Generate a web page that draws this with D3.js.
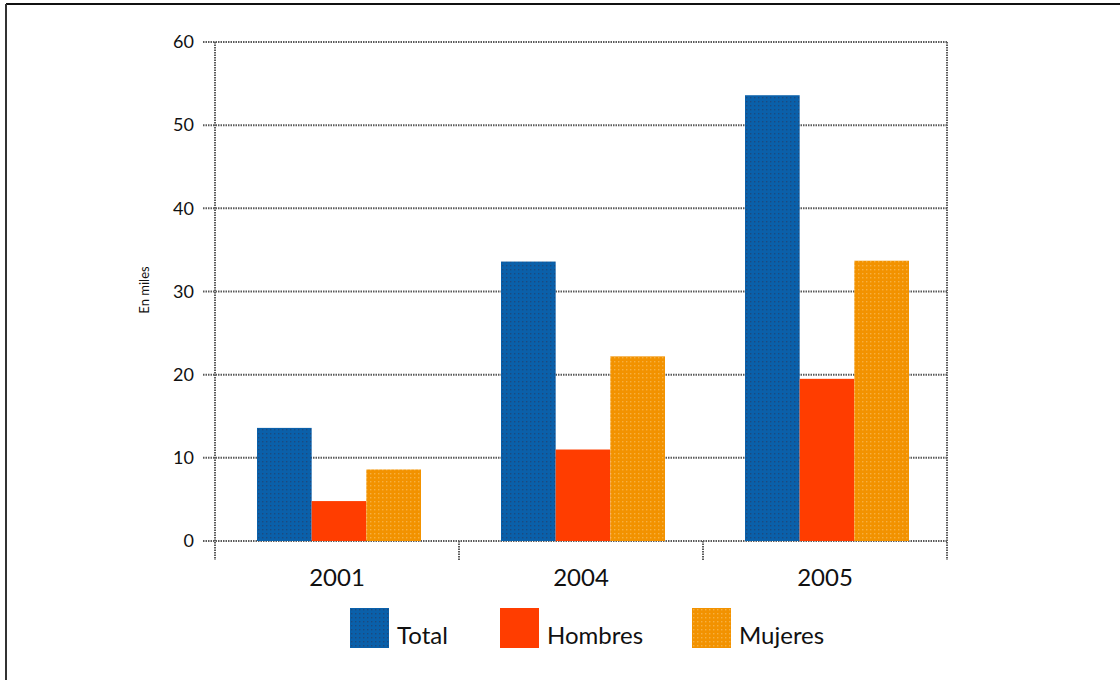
<!DOCTYPE html>
<html>
<head>
<meta charset="utf-8">
<script src="https://cdn.jsdelivr.net/npm/d3@7"></script>
<style>
  body { margin: 0; background: #fff; }
  svg { display: block; font-family: Lato, "Open Sans", sans-serif; }
</style>
</head>
<body>
<svg width="1120" height="680"></svg>
<script>
// data
var years = ["2001", "2004", "2005"];
var series = ["Total", "Hombres", "Mujeres"];
var total = [13.6, 33.6, 53.6];
var hombres = [4.8, 11.0, 19.5];
var mujeres = [8.6, 22.2, 33.7];
var yTicks = [0, 10, 20, 30, 40, 50, 60];

var values = [total, hombres, mujeres];
var fills = ["#0a60aa", "#ff3d00", "#f29200"];
var dots = ["#1a4a80", "#ff5a20", "#f7b040"];

var svg = d3.select("svg");

// frame (only top + left edges show in the picture)
svg.append("line").attr("x1", 6).attr("x2", 1120).attr("y1", 4).attr("y2", 4)
  .attr("stroke", "#111").attr("stroke-width", 2);
svg.append("line").attr("x1", 6).attr("x2", 6).attr("y1", 4).attr("y2", 680)
  .attr("stroke", "#333").attr("stroke-width", 2);

// dotted textures for the bars
var defs = svg.append("defs");
series.forEach(function(s, i) {
  var p = defs.append("pattern").attr("id", "pat" + i)
    .attr("width", 4).attr("height", 4).attr("patternUnits", "userSpaceOnUse");
  p.append("rect").attr("width", 4).attr("height", 4).attr("fill", fills[i]);
  if (i != 1) {
    p.append("rect").attr("x", 1).attr("y", 1).attr("width", 1.4).attr("height", 1.4)
      .attr("fill", dots[i]);
  }
});

var plotL = 215, plotR = 947, plotT = 42, plotB = 541;

var x = d3.scaleBand().domain(years).range([plotL, plotR]);
var xs = d3.scaleBand().domain(series).range([0, 164]);
var y = d3.scaleLinear().domain([0, 60]).range([plotB, plotT]);

var grid = svg.append("g");

// horizontal grid lines
grid.selectAll(".h").data(yTicks).enter().append("line")
  .attr("x1", plotL - 12).attr("x2", plotR)
  .attr("y1", function(d) { return y(d); })
  .attr("y2", function(d) { return y(d); });

// vertical lines: axis, category dividers, right edge
var vx = [plotL].concat(years.map(function(d) { return x(d) + x.bandwidth(); }));
grid.selectAll(".v").data(vx).enter().append("line")
  .attr("x1", function(d) { return d; }).attr("x2", function(d) { return d; })
  .attr("y1", function(d, i) { return (i == 0 || i == 3) ? plotT : plotB; })
  .attr("y2", plotB + 19);

grid.selectAll("line")
  .attr("stroke", "#5a5a5a").attr("stroke-width", 2)
  .attr("stroke-dasharray", "1.5,1");

// y tick labels
svg.selectAll(".yl").data(yTicks).enter().append("text")
  .attr("x", plotL - 21).attr("y", function(d) { return y(d); })
  .attr("dy", "0.35em").attr("text-anchor", "end")
  .attr("font-size", 18).attr("fill", "#111")
  .text(function(d) { return d; });

// axis title
svg.append("text")
  .attr("transform", "translate(149,290) rotate(-90)")
  .attr("text-anchor", "middle").attr("font-size", 13).attr("fill", "#111")
  .text("En miles");

// bars
var groups = svg.selectAll(".grp").data(years).enter().append("g")
  .attr("transform", function(d) {
    return "translate(" + (x(d) + x.bandwidth() / 2 - 80) + ",0)";
  });

groups.selectAll("rect")
  .data(function(d, j) {
    return series.map(function(s, i) { return { s: s, i: i, v: values[i][j] }; });
  })
  .enter().append("rect")
  .attr("x", function(d) { return xs(d.s); })
  .attr("width", xs.bandwidth())
  .attr("y", function(d) { return y(d.v); })
  .attr("height", function(d) { return plotB - y(d.v); })
  .attr("fill", function(d) { return "url(#pat" + d.i + ")"; });

// category labels
svg.selectAll(".xl").data(years).enter().append("text")
  .attr("x", function(d) { return x(d) + x.bandwidth() / 2; })
  .attr("y", 586).attr("text-anchor", "middle")
  .attr("font-size", 24).attr("fill", "#111")
  .text(function(d) { return d; });

// legend
var legX = [350, 500, 692];
var leg = svg.selectAll(".leg").data(series).enter().append("g")
  .attr("transform", function(d, i) { return "translate(" + legX[i] + ",608)"; });
leg.append("rect").attr("width", 39).attr("height", 40)
  .attr("fill", function(d, i) { return "url(#pat" + i + ")"; });
leg.append("text").attr("x", 47).attr("y", 36)
  .attr("font-size", 24).attr("fill", "#111")
  .text(function(d) { return d; });
</script>
</body>
</html>
